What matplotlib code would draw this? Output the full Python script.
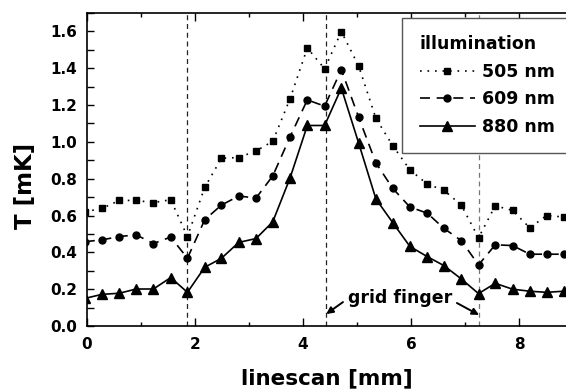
import matplotlib
matplotlib.use("Agg")
import matplotlib.pyplot as plt
from matplotlib.ticker import MultipleLocator, FormatStrFormatter

plt.rcParams['font.family'] = ['DejaVu Sans']
plt.rcParams['font.weight'] = 'bold'

# positions along the linescan [mm]
x_mm = [-0.04, 0.28, 0.60, 0.91, 1.23, 1.55, 1.86, 2.18, 2.49, 2.81, 3.13,
        3.44, 3.76, 4.08, 4.40, 4.71, 5.03, 5.35, 5.66, 5.98, 6.30, 6.61,
        6.93, 7.25, 7.56, 7.88, 8.20, 8.51, 8.83]

T_505 = [0.62, 0.639, 0.682, 0.682, 0.670, 0.686, 0.486, 0.753, 0.911, 0.915,
         0.951, 1.003, 1.234, 1.510, 1.397, 1.599, 1.412, 1.128, 0.980, 0.848,
         0.771, 0.737, 0.657, 0.479, 0.653, 0.628, 0.533, 0.600, 0.592]

T_609 = [0.458, 0.468, 0.486, 0.495, 0.448, 0.483, 0.368, 0.577, 0.657, 0.706,
         0.695, 0.815, 1.027, 1.228, 1.194, 1.392, 1.134, 0.886, 0.748, 0.646,
         0.613, 0.530, 0.464, 0.332, 0.441, 0.437, 0.390, 0.390, 0.390]

T_880 = [0.150, 0.172, 0.178, 0.201, 0.201, 0.263, 0.183, 0.319, 0.368, 0.454,
         0.475, 0.566, 0.804, 1.089, 1.089, 1.292, 0.994, 0.690, 0.562, 0.432,
         0.377, 0.328, 0.256, 0.176, 0.232, 0.200, 0.189, 0.183, 0.189]

series_labels = ['505 nm', '609 nm', '880 nm']
grid_finger_mm = [1.85, 4.43, 7.26]

fig = plt.figure(figsize=(5.66, 3.91), dpi=100)
ax = fig.add_axes([0.1537, 0.1662, 0.8463, 0.8006])

ax.plot(x_mm, T_505, linestyle=(0, (1, 3.5)), color='black', lw=1.2,
        marker='s', markersize=4.2, label=series_labels[0])
ax.plot(x_mm, T_609, linestyle=(0, (6, 4)), color='black', lw=1.2,
        marker='o', markersize=5, label=series_labels[1])
ax.plot(x_mm, T_880, linestyle='-', color='black', lw=1.2,
        marker='^', markersize=6.5, label=series_labels[2])

for i, xv in enumerate(grid_finger_mm):
    ax.axvline(xv, color='#222222' if i < 2 else '#777777', lw=0.9,
               linestyle=(0, (4, 3)), zorder=0)

ax.set_xlim(0, 8.87)
ax.set_ylim(0, 1.7)

ax.xaxis.set_major_locator(MultipleLocator(2))
ax.xaxis.set_minor_locator(MultipleLocator(1))
ax.yaxis.set_major_locator(MultipleLocator(0.2))
ax.yaxis.set_minor_locator(MultipleLocator(0.1))
ax.yaxis.set_major_formatter(FormatStrFormatter('%.1f'))

ax.tick_params(axis='both', which='both', direction='in', top=True, right=False)
ax.tick_params(axis='x', which='major', length=6, width=1, pad=8, labelsize=11)
ax.tick_params(axis='x', which='minor', length=3, width=1)
ax.tick_params(axis='y', which='major', length=5, width=1, pad=7, labelsize=11)
ax.tick_params(axis='y', which='minor', length=5, width=1)
for lab in ax.get_xticklabels() + ax.get_yticklabels():
    lab.set_fontweight('bold')

ax.spines['right'].set_visible(False)
for s in ['left', 'bottom', 'top']:
    ax.spines[s].set_linewidth(1.2)

ax.set_xlabel('linescan [mm]', fontsize=15.5, fontweight='bold', labelpad=12)
ax.set_ylabel('T [mK]', fontsize=16.5, fontweight='bold')
ax.yaxis.set_label_coords(-0.104, 0.446)

leg = ax.legend(title='illumination', loc='upper left',
                bbox_to_anchor=(0.658, 0.985), frameon=True, fancybox=False,
                edgecolor='#555555', framealpha=1, fontsize=12.5,
                title_fontproperties={'weight': 'bold', 'size': 12.5},
                handlelength=3.2, handletextpad=0.4, labelspacing=0.55,
                borderpad=1.0, alignment='left', borderaxespad=0)
leg.get_frame().set_linewidth(1.0)
for t in leg.get_texts():
    t.set_fontweight('bold')

ax.text(5.80, 0.152, 'grid finger', fontsize=12.5, fontweight='bold',
        ha='center', va='center')
ax.annotate('', xy=(grid_finger_mm[1], 0.065), xytext=(4.74, 0.13),
            arrowprops=dict(arrowstyle='-|>', color='black', lw=1.4,
                            mutation_scale=10, shrinkA=0, shrinkB=0))
ax.annotate('', xy=(grid_finger_mm[2], 0.06), xytext=(6.85, 0.125),
            arrowprops=dict(arrowstyle='-|>', color='black', lw=1.4,
                            mutation_scale=10, shrinkA=0, shrinkB=0))

fig.savefig('out.png', dpi=100)
